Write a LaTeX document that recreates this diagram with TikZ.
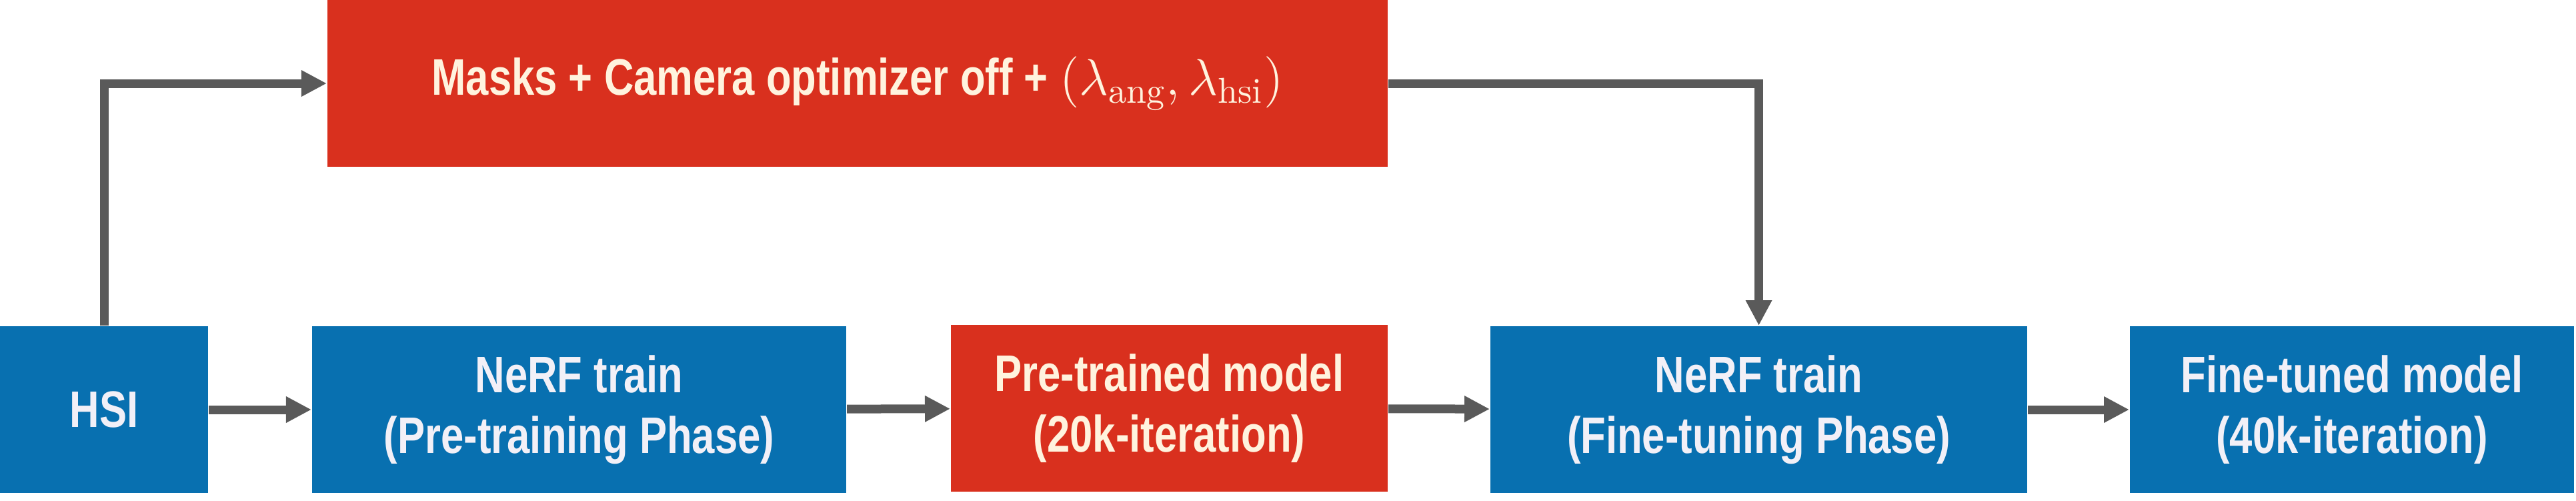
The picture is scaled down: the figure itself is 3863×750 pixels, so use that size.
\RequirePackage{fix-cm}
\documentclass[tikz,border=0pt]{standalone}
\usepackage{fontspec}
\newfontfamily\nf[FakeStretch=0.8]{Liberation Sans}
\usetikzlibrary{arrows.meta}
\definecolor{boxred}{HTML}{D9301E}
\definecolor{boxblue}{HTML}{0870B0}
\definecolor{arrgray}{HTML}{5A5A5A}
\definecolor{redtxt}{HTML}{FFF3DE}
\definecolor{bluetxt}{HTML}{F2F0F7}
\begin{document}
\begin{tikzpicture}[x=0.2pt,y=-0.2pt,
  box/.style={rectangle, inner sep=0pt, align=center,
    font=\nf\bfseries\fontsize{15.4}{18.2}\selectfont},
  redbox/.style={box, fill=boxred, text=redtxt},
  bluebox/.style={box, fill=boxblue, text=bluetxt},
  arr/.style={draw=arrgray, line width=2.6pt,
    -{Triangle[length=7.6pt,width=7.4pt]}}]
\useasboundingbox (0,0) rectangle (3863,750);

\node[redbox, minimum width=318pt, minimum height=50pt] (top) at (1286,125)
  {Masks + Camera optimizer off + $(\lambda_{\mathrm{ang}},\lambda_{\mathrm{hsi}})$};
\node[bluebox, minimum width=62.4pt, minimum height=50pt] (hsi) at (156,614) {HSI};
\node[bluebox, minimum width=160.2pt, minimum height=50pt] (nerf1) at (868.5,614)
  {NeRF train\\(Pre-training Phase)};
\node[redbox, minimum width=131pt, minimum height=50pt] (pre) at (1753.5,612)
  {Pre-trained model\\(20k-iteration)};
\node[bluebox, minimum width=161pt, minimum height=50pt] (nerf2) at (2637.5,614)
  {NeRF train\\(Fine-tuning Phase)};
\node[bluebox, minimum width=133.2pt, minimum height=50pt] (fine) at (3527,614)
  {Fine-tuned model\\(40k-iteration)};

\draw[arr] (hsi) -- (nerf1);
\draw[arr] (nerf1) -- (pre);
\draw[arr] (pre) -- (nerf2);
\draw[arr] (nerf2) -- (fine);
\draw[arr] (hsi.north) |- (top.west);
\draw[arr] (top.east) -| (nerf2.north);
\end{tikzpicture}
\end{document}
